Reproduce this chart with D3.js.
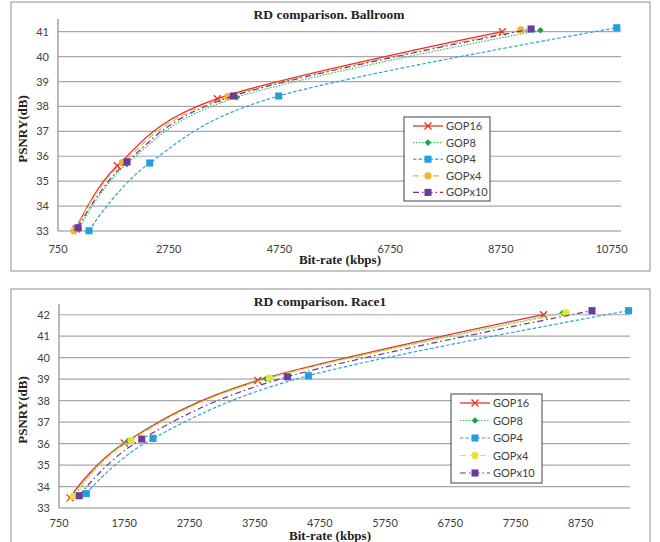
<!DOCTYPE html>
<html lang="en">
<head>
    <meta charset="UTF-8">
    <title>RD comparison</title>
    <script src="https://d3js.org/d3.v7.min.js"></script>
    <style>
        body { margin: 0; background: white; }
        .tick-label { font-family: Lato, "Open Sans", sans-serif; font-size: 11px; fill: #404040; }
        .legend-label { font-family: Lato, "Open Sans", sans-serif; font-size: 11px; fill: #404040; }
        .title { font-family: "Liberation Serif", "Times New Roman", serif; font-weight: bold; font-size: 13px; fill: #222; }
    </style>
</head>
<body>
<svg width="660" height="542"></svg>
<script>
// Series names
var series = ["GOP16", "GOP8", "GOP4", "GOPx4", "GOPx10"];

// Ballroom: [bit-rate kbps, PSNR-Y dB]
var ballroomGOP16  = [[1080, 33.08], [1821, 35.62], [3628, 38.31], [8777, 41.00]];
var ballroomGOP8   = [[1130, 33.08], [1997, 35.69], [3979, 38.37], [9464, 41.06]];
var ballroomGOP4   = [[1310, 33.01], [2407, 35.73], [4737, 38.42], [10844, 41.16]];
var ballroomGOPx4  = [[1039, 33.01], [1912, 35.74], [3816, 38.39], [9110, 41.07]];
var ballroomGOPx10 = [[1111, 33.13], [1997, 35.78], [3917, 38.42], [9296, 41.11]];

// Race1: [bit-rate kbps, PSNR-Y dB]
var race1GOP16  = [[919, 33.47], [1752, 36.03], [3798, 38.94], [8179, 42.00]];
var race1GOP8   = [[995, 33.57], [1808, 36.13], [3925, 39.02], [8471, 42.08]];
var race1GOP4   = [[1169, 33.67], [2192, 36.24], [4574, 39.16], [9483, 42.19]];
var race1GOPx4  = [[969, 33.54], [1854, 36.15], [3976, 39.05], [8523, 42.08]];
var race1GOPx10 = [[1061, 33.57], [2019, 36.21], [4252, 39.11], [8922, 42.19]];

// Tick labels
var ballroomXTicks = [750, 2750, 4750, 6750, 8750, 10750];
var ballroomYTicks = [33, 34, 35, 36, 37, 38, 39, 40, 41];
var race1XTicks = [750, 1750, 2750, 3750, 4750, 5750, 6750, 7750, 8750];
var race1YTicks = [33, 34, 35, 36, 37, 38, 39, 40, 41, 42];

var svg = d3.select("svg");

// line style per series
function styleOf(name, x4color) {
    if (name == "GOP16")  return { color: "#e8302a", marker: "#e8302a", dash: null, width: 1.3, shape: "x" };
    if (name == "GOP8")   return { color: "#3dbb6c", marker: "#1e9e4a", dash: "1.5,1.5", width: 1.2, shape: "diamond" };
    if (name == "GOP4")   return { color: "#2aa3de", marker: "#21a0dc", dash: "3.5,2", width: 1.2, shape: "square" };
    if (name == "GOPx4")  return { color: x4color, marker: x4color, dash: "6,4", width: 1.2, shape: "circle" };
    return { color: "#7030a0", marker: "#6a3a9c", dash: "6,3,1.5,3", width: 1.2, shape: "square" };
}

function drawMarker(g, st, cx, cy) {
    if (st.shape == "x") {
        g.append("path")
            .attr("d", "M" + (cx - 3.5) + "," + (cy - 3.5) + "L" + (cx + 3.5) + "," + (cy + 3.5) +
                       "M" + (cx - 3.5) + "," + (cy + 3.5) + "L" + (cx + 3.5) + "," + (cy - 3.5))
            .attr("stroke", st.marker)
            .attr("stroke-width", 1.3);
    } else if (st.shape == "diamond") {
        // square turned 45 degrees
        g.append("path")
            .attr("transform", "translate(" + cx + "," + cy + ") rotate(45)")
            .attr("d", d3.symbol().type(d3.symbolSquare).size(22)())
            .attr("fill", st.marker);
    } else {
        var sym = st.shape == "square" ? d3.symbolSquare : d3.symbolCircle;
        var size = st.shape == "square" ? 50 : 42;
        g.append("path")
            .attr("transform", "translate(" + cx + "," + cy + ")")
            .attr("d", d3.symbol().type(sym).size(size)())
            .attr("fill", st.marker);
    }
}

function drawChart(cfg) {
    // outer frame
    svg.append("rect")
        .attr("x", cfg.box[0]).attr("y", cfg.box[1])
        .attr("width", cfg.box[2]).attr("height", cfg.box[3])
        .attr("fill", "white")
        .attr("stroke", "#b4b4b4")
        .attr("stroke-width", 1.5);

    var x = d3.scaleLinear().domain(cfg.xDomain).range([cfg.left, cfg.right]);
    var y = d3.scaleLinear().domain(cfg.yDomain).range([cfg.bottom, cfg.top]);

    // gridlines
    svg.append("g")
        .selectAll("line")
        .data(cfg.yTicks.slice(1))
        .enter()
        .append("line")
        .attr("x1", cfg.left).attr("x2", cfg.right)
        .attr("y1", function (d) { return y(d); })
        .attr("y2", function (d) { return y(d); })
        .attr("stroke", "#a8a8a8")
        .attr("stroke-width", 1.2);

    // axes lines
    svg.append("line")
        .attr("x1", cfg.left).attr("x2", cfg.left)
        .attr("y1", cfg.top).attr("y2", cfg.bottom)
        .attr("stroke", "#8c8c8c").attr("stroke-width", 1.2);
    svg.append("line")
        .attr("x1", cfg.left).attr("x2", cfg.right)
        .attr("y1", cfg.bottom).attr("y2", cfg.bottom)
        .attr("stroke", "#8c8c8c").attr("stroke-width", 1.2);

    // tick labels
    svg.append("g")
        .selectAll("text")
        .data(cfg.yTicks)
        .enter()
        .append("text")
        .attr("class", "tick-label")
        .attr("x", cfg.left - 9)
        .attr("y", function (d) { return y(d) + 4; })
        .attr("text-anchor", "end")
        .text(function (d) { return d; });

    svg.append("g")
        .selectAll("text")
        .data(cfg.xTicks)
        .enter()
        .append("text")
        .attr("class", "tick-label")
        .attr("x", function (d) { return x(d); })
        .attr("y", cfg.bottom + cfg.labelDy)
        .attr("text-anchor", "middle")
        .text(function (d) { return d; });

    // titles
    svg.append("text")
        .attr("class", "title")
        .attr("x", cfg.titleX).attr("y", cfg.box[1] + 17)
        .attr("text-anchor", "middle")
        .style("font-size", "13.5px")
        .text(cfg.title);

    svg.append("text")
        .attr("class", "title")
        .attr("x", cfg.xTitleX).attr("y", cfg.bottom + cfg.titleDy)
        .attr("text-anchor", "middle")
        .text("Bit-rate (kbps)");

    svg.append("text")
        .attr("class", "title")
        .attr("transform", "translate(" + (cfg.box[0] + 16) + "," + ((cfg.top + cfg.bottom) / 2 + 4) + ") rotate(-90)")
        .attr("text-anchor", "middle")
        .text("PSNRY(dB)");

    // series lines + markers
    var line = d3.line()
        .x(function (d) { return x(d[0]); })
        .y(function (d) { return y(d[1]); })
        .curve(d3.curveCardinal.tension(0));

    series.forEach(function (name, i) {
        var st = styleOf(name, cfg.x4color);
        var g = svg.append("g");
        g.append("path")
            .datum(cfg.data[i])
            .attr("d", line)
            .attr("fill", "none")
            .attr("stroke", st.color)
            .attr("stroke-width", st.width)
            .attr("stroke-dasharray", st.dash);
        cfg.data[i].forEach(function (d) {
            drawMarker(g, st, x(d[0]), y(d[1]));
        });
    });

    // legend
    var lg = svg.append("g")
        .attr("transform", "translate(" + cfg.legend[0] + "," + cfg.legend[1] + ")");
    lg.append("rect")
        .attr("width", cfg.legend[2]).attr("height", cfg.legend[3])
        .attr("fill", "white")
        .attr("stroke", "#404040")
        .attr("stroke-width", 1);
    series.forEach(function (name, i) {
        var st = styleOf(name, cfg.x4color);
        var ly = 9 + i * cfg.legendStep;
        lg.append("line")
            .attr("x1", 9).attr("x2", 39)
            .attr("y1", ly).attr("y2", ly)
            .attr("stroke", st.color)
            .attr("stroke-width", st.width)
            .attr("stroke-dasharray", st.dash);
        drawMarker(lg, st, 24, ly);
        lg.append("text")
            .attr("class", "legend-label")
            .attr("x", 42).attr("y", ly + 4)
            .text(name);
    });
}

// Ballroom chart
drawChart({
    title: "RD comparison. Ballroom",
    box: [11, 2, 639, 269],
    left: 58, right: 621, top: 19, bottom: 231,
    xDomain: [750, 10920], yDomain: [33, 41.51],
    xTicks: ballroomXTicks, yTicks: ballroomYTicks,
    labelDy: 22, titleDy: 33,
    titleX: 329, xTitleX: 340,
    x4color: "#f5b234",
    data: [ballroomGOP16, ballroomGOP8, ballroomGOP4, ballroomGOPx4, ballroomGOPx10],
    legend: [404, 117, 86, 84], legendStep: 16.6
});

// Race1 chart
drawChart({
    title: "RD comparison. Race1",
    box: [11, 289, 639, 262],
    left: 59, right: 630, top: 304, bottom: 508,
    xDomain: [750, 9505], yDomain: [33, 42.5],
    xTicks: race1XTicks, yTicks: race1YTicks,
    labelDy: 19, titleDy: 32,
    titleX: 320, xTitleX: 330,
    x4color: "#e4e43c",
    data: [race1GOP16, race1GOP8, race1GOP4, race1GOPx4, race1GOPx10],
    legend: [451, 394, 91, 89], legendStep: 17.5
});
</script>
</body>
</html>
